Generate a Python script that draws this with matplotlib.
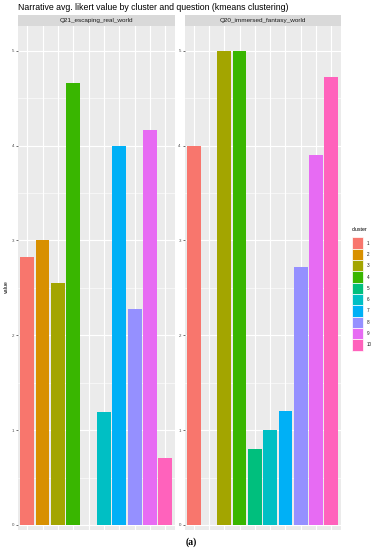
import numpy as np
import matplotlib
matplotlib.use("Agg")
import matplotlib.pyplot as plt
from matplotlib.patches import Rectangle

# data (nan = cluster absent in that facet)
clusters = [1, 2, 3, 4, 5, 6, 7, 8, 9, 10]
q21_values = [2.83, 3.0, 2.55, 4.66, np.nan, 1.19, 4.0, 2.28, 4.16, 0.71]
q20_values = [4.0, np.nan, 5.0, 5.0, 0.8, 1.0, 1.2, 2.72, 3.9, 4.72]
facets = ["Q21_escaping_real_world", "Q20_immersed_fantasy_world"]

colors = ["#F8766D", "#D89000", "#A3A500", "#39B600", "#00BF7D",
          "#00BFC4", "#00B0F6", "#9590FF", "#E76BF3", "#FF62BC"]

plt.rcParams['font.family'] = ['Liberation Sans', 'DejaVu Sans']

W, H = 376, 550
fig = plt.figure(figsize=(W / 100, H / 100), dpi=100)


def fx(px):
    return px / W


def fy(py):
    return 1 - py / H


panel_x = [(18, 174.5), (184.5, 340.5)]
panel_top, panel_bot, strip_top = 26, 530, 15

for (x0, x1), label, values in zip(panel_x, facets, [q21_values, q20_values]):
    ax = fig.add_axes([fx(x0), fy(panel_bot), fx(x1 - x0), (panel_bot - panel_top) / H])
    ax.set_facecolor("#EBEBEB")
    for s in ax.spines.values():
        s.set_visible(False)
    for c, v, col in zip(clusters, values, colors):
        if not np.isnan(v):
            ax.bar(c, v, width=0.9, color=col, zorder=3)
    ax.set_xlim(0.4, 10.6)
    ax.set_ylim(-0.053, 5.26)
    ax.set_xticks(clusters)
    ax.set_xticklabels([])
    ax.tick_params(axis='x', length=0)
    ax.set_yticks(range(6))
    ax.set_yticks(np.arange(0.5, 5.5, 1.0), minor=True)
    ax.tick_params(axis='y', which='major', length=1.8, width=0.5, color="#333333",
                   labelsize=3.2, labelcolor="#4D4D4D", pad=0.8)
    ax.tick_params(axis='y', which='minor', length=0)
    ax.grid(True, which='major', color='white', linewidth=0.8, zorder=0)
    ax.grid(True, which='minor', axis='y', color='white', linewidth=0.4, zorder=0)
    ax.set_axisbelow(True)

    sax = fig.add_axes([fx(x0), fy(panel_top), fx(x1 - x0), (panel_top - strip_top) / H])
    sax.set_facecolor("#D9D9D9")
    sax.set_xticks([])
    sax.set_yticks([])
    for s in sax.spines.values():
        s.set_visible(False)
    sax.text(0.5, 0.5, label, ha='center', va='center', fontsize=4.6,
             color="#1A1A1A", transform=sax.transAxes)

fig.text(fx(18), fy(7), "Narrative avg. likert value by cluster and question (kmeans clustering)",
         ha='left', va='center', fontsize=6.3, color="black")
fig.text(fx(6), fy(287), "value", rotation=90, ha='center', va='center', fontsize=3.8)

# legend (drawn by hand, ggplot style)
key_x, key_w, key_top, key_h = 351.7, 11, 237.5, 11.3
fig.text(fx(351.5), fy(229.5), "cluster", ha='left', va='center', fontsize=3.8)
for i, (c, col) in enumerate(zip(clusters, colors)):
    top = key_top + i * key_h
    fig.add_artist(Rectangle((fx(key_x), fy(top + key_h)), fx(key_w), key_h / H,
                             transform=fig.transFigure, facecolor=col,
                             edgecolor='white', linewidth=0.5))
    fig.text(fx(366.7), fy(top + key_h / 2), str(c), ha='left', va='center',
             fontsize=3.3, color="#1A1A1A")

fig.text(fx(190.8), fy(542), "(a)", ha='center', va='center', fontsize=7,
         family='Liberation Serif', weight='bold')

fig.savefig("out.png", dpi=100)
